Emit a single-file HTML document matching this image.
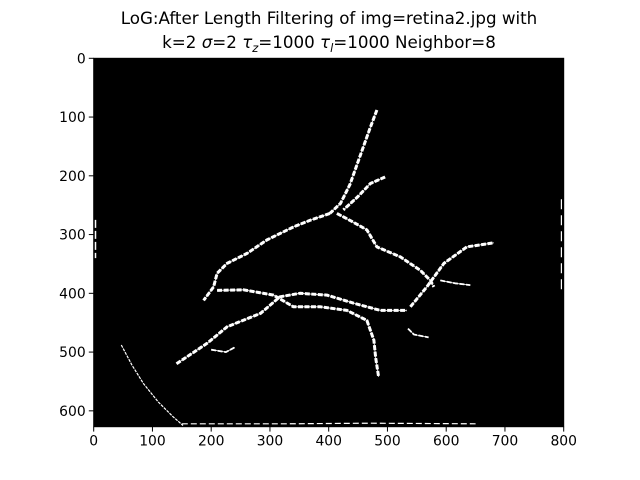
<!DOCTYPE html>
<html><head><meta charset="utf-8"><style>
body{margin:0;background:#fff;}
svg{display:block;font-family:"DejaVu Sans","Liberation Sans",sans-serif;}
</style></head><body>
<svg id="chart" width="640" height="480" viewBox="0 0 640 480">
<text x="329" y="24" text-anchor="middle" font-size="16.7">LoG:After Length Filtering of img=retina2.jpg with</text>
<text x="329" y="48" text-anchor="middle" font-size="16.7">k=2 <tspan font-style="italic">σ</tspan>=2 <tspan font-style="italic">τ</tspan><tspan font-size="11.5" dy="4" font-style="italic">z</tspan><tspan dy="-4">=1000 </tspan><tspan font-style="italic">τ</tspan><tspan font-size="11.5" dy="4" font-style="italic">l</tspan><tspan dy="-4">=1000 Neighbor=8</tspan></text>
<rect x="93.7" y="58.3" width="470" height="368.4" fill="#000"/>
<g id="marks"></g>
<rect x="93.7" y="58.3" width="470" height="368.4" fill="none" stroke="#000" stroke-width="1"/>
<g id="xticks"></g><g id="yticks"></g>
</svg>
<script>
const imgW = 800, imgH = 627;
const xTicks = [0,100,200,300,400,500,600,700,800];
const yTicks = [0,100,200,300,400,500,600];
const vesselTop = [[482,88],[470,120],[452,170],[436,215],[420,247],[402,264]];
const vesselBranch = [[496,202],[471,213],[450,235],[425,258]];
const vesselLeft = [[402,264],[370,275],[340,287],[295,309],[261,332],[227,349],[210,366],[204,389],[187,412]];
const vesselRightDown = [[414,264],[440,278],[465,292],[482,321],[522,338],[556,361],[573,378],[579,389]];
const vesselRightUp = [[539,423],[567,389],[596,349],[635,321],[681,314]];
const vesselLower = [[141,520],[193,485],[227,457],[284,434],[317,406],[351,400],[397,403],[443,417],[488,429],[533,429]];
const vesselMid = [[210,395],[255,394],[306,403],[340,423],[386,423],[431,429],[465,446],[477,480],[480,510],[485,542]];
const vesselSmall = [[590,378],[615,383],[641,386]];
const vesselSmall2 = [[200,496],[225,500],[240,492]];
const vesselSmall3 = [[535,460],[545,470],[570,475]];
const arc = [[47,488],[65,522],[85,554],[110,585],[135,610],[152,625]];
const bottomEdge = [[150,622],[330,622],[470,621],[650,622]];
const leftEdge = [[3,275],[3,340]];
const rightEdge = [[796,240],[796,400]];
const vessels = [vesselTop,vesselBranch,vesselLeft,vesselRightDown,vesselRightUp,vesselLower,vesselMid,vesselSmall,vesselSmall2,vesselSmall3];

const x0=93.7,x1=563.7,y0=58.3,y1=426.7;
const sx = v => x0 + v*(x1-x0)/imgW;
const sy = v => y0 + v*(y1-y0)/imgH;
const NS="http://www.w3.org/2000/svg";
const marks=document.getElementById('marks');
function line(pts,w,dash){
  const p=document.createElementNS(NS,'polyline');
  p.setAttribute('points',pts.map(q=>sx(q[0]).toFixed(1)+','+sy(q[1]).toFixed(1)).join(' '));
  p.setAttribute('fill','none');p.setAttribute('stroke','#fff');
  p.setAttribute('stroke-width',w);p.setAttribute('stroke-linejoin','round');
  if(dash)p.setAttribute('stroke-dasharray',dash);
  
  
  marks.appendChild(p);
}
vessels.forEach((v,i)=>{line(v,i<7?3:1.8,'5 1.5');line(v,0.8);});
line(arc,1.2,'3 1');
line(bottomEdge,1.2,'6 3');
line(leftEdge,1.5,'8 3');
line(rightEdge,1.2,'10 6');

const xt=document.getElementById('xticks'), yt=document.getElementById('yticks');
xTicks.forEach(v=>{
  const l=document.createElementNS(NS,'line');
  l.setAttribute('x1',sx(v));l.setAttribute('x2',sx(v));l.setAttribute('y1',y1);l.setAttribute('y2',y1+4.9);l.setAttribute('stroke','#000');
  
  
  xt.appendChild(l);
  const t=document.createElementNS(NS,'text');
  t.setAttribute('x',sx(v));t.setAttribute('y',y1+19);t.setAttribute('text-anchor','middle');t.setAttribute('font-size','13.9');
  t.textContent=v;
  
  
  xt.appendChild(t);
});
yTicks.forEach(v=>{
  const l=document.createElementNS(NS,'line');
  l.setAttribute('x1',x0-4.9);l.setAttribute('x2',x0);l.setAttribute('y1',sy(v));l.setAttribute('y2',sy(v));l.setAttribute('stroke','#000');
  
  
  yt.appendChild(l);
  const t=document.createElementNS(NS,'text');
  t.setAttribute('x',x0-8);t.setAttribute('y',sy(v)+5);t.setAttribute('text-anchor','end');t.setAttribute('font-size','13.9');
  t.textContent=v;
  
  
  yt.appendChild(t);
});
</script>
</body></html>
